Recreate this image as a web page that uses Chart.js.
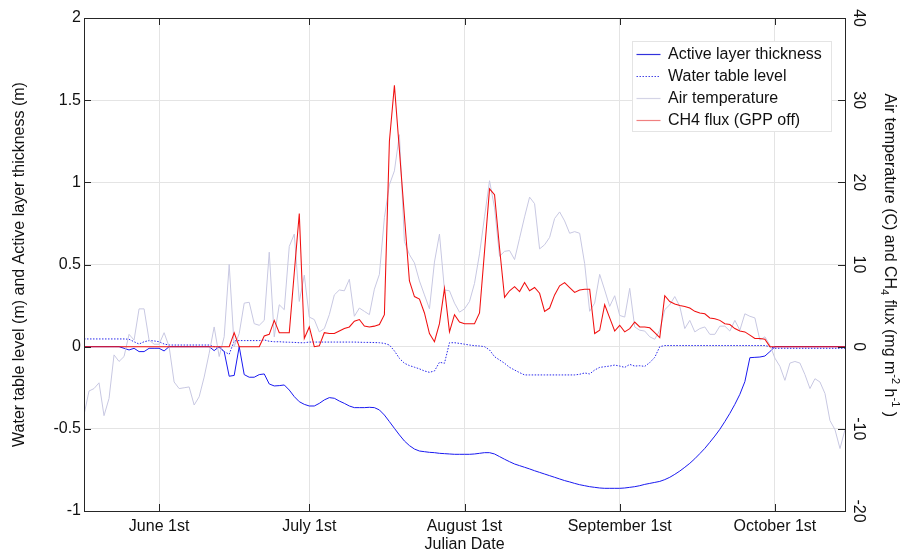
<!DOCTYPE html>
<html>
<head>
<meta charset="utf-8">
<script src="https://cdn.jsdelivr.net/npm/chart.js@4.4.1/dist/chart.umd.min.js"></script>
<style>
  html, body { margin: 0; padding: 0; background: #fff; }
</style>
</head>
<body>
<canvas id="chart" width="916" height="553"></canvas>
<script>
// daily series, first value is day 137, last is day 289
const firstDay = 137;

const monthTicks = [152, 182, 213, 244, 275];
const monthLabels = ['June 1st', 'July 1st', 'August 1st', 'September 1st', 'October 1st'];

// air temperature (C), right axis
const airTemp = [
  -8.3, -5.4, -5.1, -4.4, -8.4, -6.3, -1.0, -1.8, -1.2, 1.5,
  0.8, 4.6, 4.6, 0.8, 0.3, 0.3, 1.7, 0.0, -4.3, -5.1,
  -5.0, -4.9, -7.1, -6.1, -3.7, -0.8, 2.4, -1.2, 1.2, 10.0,
  0.0, 1.6, 5.3, 5.4, 2.8, 2.6, 3.2, 11.5, 1.2, 5.1,
  4.5, 12.2, 13.7, 5.5, 8.7, 3.6, 3.3, 1.8, 2.2, 3.9,
  6.3, 6.9, 6.8, 8.2, 3.7, 4.7, 4.3, 3.9, 7.0, 8.8,
  15.7, 19.7, 21.4, 25.8, 12.8, 11.2, 10.2, 8.0, 6.3, 4.6,
  10.3, 13.7, 6.9, 6.8, 5.3, 4.2, 4.6, 5.5, 7.7, 11.3,
  15.8, 20.2, 16.9, 11.0, 11.6, 11.7, 10.6, 13.2, 15.8, 18.2,
  17.4, 11.9, 12.4, 13.3, 15.6, 16.4, 15.3, 13.8, 14.0, 13.8,
  10.1, 4.3, 5.3, 8.8, 6.9, 4.9, 6.2, 3.8, 3.6, 7.1,
  2.4, 2.0, 1.9, 1.2, 0.9, 2.0, 4.5, 5.1, 6.1, 4.9,
  2.2, 3.2, 1.8, 2.2, 2.4, 1.5, 1.5, 2.5, 2.5, 1.9,
  3.2, 2.0, 4.0, 3.7, 3.5, 0.8, 1.2, 0.2, -1.4, -2.4,
  -4.1, -2.0, -1.8, -2.0, -3.4, -5.1, -3.9, -4.3, -5.7, -9.0,
  -10.1, -12.4, -10.1
];

// CH4 flux (mg m-2 h-1), right axis
const ch4Flux = [
  0, 0, 0, 0, 0, 0, 0, 0, 0, 0,
  0, 0, 0, 0, 0, 0, 0, 0, 0, 0,
  0, 0, 0, 0, 0, 0, 0, 0, 0, 0,
  1.7, 0, 0, 0, 0, 0, 1.3, 1.5, 3.2, 1.7,
  1.7, 1.7, 9.0, 16.2, 1.0, 2.4, 0.0, 0.1, 1.7, 1.6,
  1.6, 1.9, 2.2, 2.4, 3.1, 3.3, 2.5, 2.4, 2.5, 2.7,
  3.9, 25.0, 31.8, 23.9, 15.9, 8.0, 6.1, 5.8, 4.1, 1.6,
  0.6, 2.8, 7.1, 1.8, 3.9, 3.0, 2.8, 2.8, 2.8, 4.1,
  11.6, 19.2, 18.5, 12.0, 6.0, 6.8, 7.3, 6.7, 7.8, 6.8,
  7.2, 6.5, 4.3, 4.7, 6.3, 7.4, 7.8, 7.2, 6.6, 6.9,
  7.0, 7.0, 1.6, 2.0, 5.1, 3.5, 1.9, 2.6, 1.8, 2.2,
  3.0, 2.4, 2.4, 2.3, 1.7, 1.1, 6.2, 5.5, 5.2, 5.0,
  4.9, 4.7, 4.3, 4.1, 4.0, 3.5, 3.4, 3.2, 2.8, 2.7,
  2.2, 1.9, 1.8, 1.4, 1.0, 1.0, 0.9, 0.0, 0, 0,
  0, 0, 0, 0, 0, 0, 0, 0, 0, 0,
  0, 0, 0
];

// active layer thickness (m), left axis
const activeLayer = [
  0, 0, 0, 0, 0, 0, 0, 0, -0.01, -0.02,
  -0.01, -0.03, -0.03, -0.01, -0.01, -0.01, -0.026, 0, 0, 0,
  0, 0, 0, 0, 0, 0, -0.024, 0, -0.03, -0.18,
  -0.175, 0, -0.17, -0.186, -0.186, -0.17, -0.166, -0.227, -0.239, -0.237,
  -0.233, -0.264, -0.304, -0.335, -0.351, -0.361, -0.361, -0.345, -0.324, -0.310,
  -0.314, -0.331, -0.345, -0.361, -0.371, -0.371, -0.371, -0.369, -0.371, -0.385,
  -0.416, -0.456, -0.497, -0.537, -0.574, -0.602, -0.623, -0.635, -0.639, -0.643,
  -0.645, -0.649, -0.651, -0.653, -0.655, -0.655, -0.655, -0.655, -0.653, -0.649,
  -0.645, -0.645, -0.653, -0.669, -0.685, -0.700, -0.714, -0.724, -0.734, -0.744,
  -0.755, -0.765, -0.775, -0.785, -0.795, -0.805, -0.815, -0.823, -0.832, -0.840,
  -0.846, -0.852, -0.856, -0.860, -0.862, -0.862, -0.862, -0.862, -0.860, -0.856,
  -0.852, -0.846, -0.838, -0.832, -0.826, -0.820, -0.809, -0.795, -0.777, -0.757,
  -0.734, -0.710, -0.682, -0.651, -0.619, -0.582, -0.544, -0.503, -0.456, -0.406,
  -0.351, -0.290, -0.213, -0.067, -0.065, -0.063, -0.057, -0.030, 0, 0,
  0, 0, 0, 0, 0, 0, 0, 0, 0, 0,
  0, 0, 0
];

// water table level (m), left axis
const waterTable = [
  0.047, 0.047, 0.047, 0.047, 0.047, 0.047, 0.047, 0.047, 0.047, 0.045,
  0.030, 0.016, 0.030, 0.037, 0.035, 0.030, 0.016, 0.010, 0.010, 0.010,
  0.010, 0.010, 0.010, 0.010, 0.010, 0.010, 0.000, -0.005, -0.030, -0.046,
  0.035, 0.037, 0.037, 0.037, 0.037, 0.037, 0.041, 0.033, 0.030, 0.030,
  0.028, 0.027, 0.026, 0.024, 0.024, 0.028, 0.028, 0.028, 0.028, 0.028,
  0.028, 0.028, 0.028, 0.028, 0.028, 0.027, 0.026, 0.026, 0.025, 0.024,
  0.020, 0.010, -0.026, -0.071, -0.101, -0.115, -0.125, -0.135, -0.148, -0.156,
  -0.148, -0.095, -0.101, 0.024, 0.024, 0.020, 0.015, 0.010, 0.006, 0.004,
  0.000, -0.020, -0.061, -0.081, -0.101, -0.126, -0.142, -0.158, -0.172, -0.172,
  -0.172, -0.172, -0.172, -0.172, -0.172, -0.172, -0.172, -0.172, -0.172, -0.168,
  -0.160, -0.166, -0.142, -0.126, -0.122, -0.118, -0.112, -0.118, -0.126, -0.108,
  -0.118, -0.116, -0.120, -0.097, -0.065, 0.000, 0.007, 0.007, 0.007, 0.007,
  0.007, 0.007, 0.007, 0.007, 0.007, 0.007, 0.007, 0.007, 0.007, 0.007,
  0.007, 0.007, 0.007, 0.007, 0.007, 0.007, 0.007, 0.000, -0.010, -0.010,
  -0.010, -0.010, -0.010, -0.010, -0.010, -0.010, -0.010, -0.010, -0.010, -0.010,
  -0.010, -0.010, -0.010
];

const FONT = '"Liberation Sans", Arial, Helvetica, sans-serif';
const TEXT = '#111';

Chart.defaults.font.family = FONT;
Chart.defaults.font.size = 16;
Chart.defaults.color = TEXT;

function toPoints(values) {
  return values.map((v, i) => ({ x: firstDay + i, y: v }));
}

// matlab style box with inward ticks, rotated right tick labels and right title
const framePlugin = {
  id: 'frame',
  afterDatasetsDraw(chart) {
    const { ctx, chartArea: a, scales } = chart;
    ctx.save();
    ctx.strokeStyle = '#262626';
    ctx.lineWidth = 1;
    ctx.setLineDash([]);
    ctx.strokeRect(a.left + 0.5, a.top + 0.5, a.right - a.left, a.bottom - a.top);

    const len = 7;
    ctx.beginPath();
    scales.x.ticks.forEach(t => {
      const px = Math.round(scales.x.getPixelForValue(t.value)) + 0.5;
      ctx.moveTo(px, a.top); ctx.lineTo(px, a.top + len);
      ctx.moveTo(px, a.bottom); ctx.lineTo(px, a.bottom - len);
    });
    scales.y.ticks.forEach(t => {
      const py = Math.round(scales.y.getPixelForValue(t.value)) + 0.5;
      ctx.moveTo(a.left, py); ctx.lineTo(a.left + len, py);
    });
    scales.y2.ticks.forEach(t => {
      const py = Math.round(scales.y2.getPixelForValue(t.value)) + 0.5;
      ctx.moveTo(a.right, py); ctx.lineTo(a.right - len, py);
    });
    ctx.stroke();

    // right tick labels, turned clockwise
    ctx.fillStyle = TEXT;
    ctx.font = '16px ' + FONT;
    ctx.textAlign = 'center';
    ctx.textBaseline = 'alphabetic';
    scales.y2.ticks.forEach(t => {
      const py = scales.y2.getPixelForValue(t.value);
      ctx.save();
      ctx.translate(a.right + 9, py);
      ctx.rotate(Math.PI / 2);
      ctx.fillText(String(t.value), 0, 0);
      ctx.restore();
    });

    // right axis title with sub and superscripts
    const parts = [
      { t: 'Air temperature (C) and CH' },
      { t: '4', dy: 3.5 },
      { t: ' flux (mg m' },
      { t: '-2', dy: -7 },
      { t: ' h' },
      { t: '-1', dy: -7 },
      { t: ' )' }
    ];
    ctx.save();
    ctx.translate(a.right + 39.5, a.top + 75.5);
    ctx.rotate(Math.PI / 2);
    ctx.textAlign = 'left';
    let x = 0;
    parts.forEach(p => {
      ctx.font = (p.dy ? '11px ' : '16px ') + FONT;
      ctx.fillText(p.t, x, p.dy || 0);
      x += ctx.measureText(p.t).width;
    });
    ctx.restore();
    ctx.restore();
  }
};

// legend box inside the plot, top right
const legendPlugin = {
  id: 'boxLegend',
  afterDraw(chart) {
    const { ctx, chartArea: a } = chart;
    const bx = a.right - 212.5, by = a.top + 23.5, bw = 199, bh = 90;
    ctx.save();
    ctx.fillStyle = '#fff';
    ctx.fillRect(bx, by, bw, bh);
    ctx.strokeStyle = '#e4e4e4';
    ctx.lineWidth = 1;
    ctx.strokeRect(bx, by, bw, bh);
    ctx.font = '16px ' + FONT;
    ctx.textAlign = 'left';
    ctx.textBaseline = 'middle';
    chart.data.datasets.forEach((ds, i) => {
      const y = Math.round(by + 12 + i * 22) + 0.5;
      ctx.beginPath();
      ctx.strokeStyle = ds.legendColor;
      ctx.lineWidth = 1.2;
      ctx.setLineDash(ds.borderDash || []);
      ctx.moveTo(bx + 4, y);
      ctx.lineTo(bx + 28, y);
      ctx.stroke();
      ctx.setLineDash([]);
      ctx.fillStyle = TEXT;
      ctx.fillText(ds.label, bx + 35.5, y);
    });
    ctx.restore();
  }
};

const gridColor = 'rgb(228,228,228)';

new Chart(document.getElementById('chart'), {
  type: 'line',
  data: {
    datasets: [{
      label: 'Active layer thickness',
      data: toPoints(activeLayer),
      yAxisID: 'y',
      borderColor: 'rgb(25,25,240)',
      legendColor: 'rgb(50,50,220)',
      borderWidth: 1,
      order: 4,
    }, {
      label: 'Water table level',
      data: toPoints(waterTable),
      yAxisID: 'y',
      borderColor: 'rgb(40,40,235)',
      legendColor: 'rgb(70,70,230)',
      borderWidth: 1,
      borderDash: [1.5, 1.5],
      order: 3,
    }, {
      label: 'Air temperature',
      data: toPoints(airTemp),
      yAxisID: 'y2',
      borderColor: 'rgb(200,200,226)',
      legendColor: 'rgb(212,212,230)',
      borderWidth: 1,
      order: 2,
    }, {
      label: 'CH4 flux (GPP off)',
      data: toPoints(ch4Flux),
      yAxisID: 'y2',
      borderColor: 'rgb(240,15,15)',
      legendColor: 'rgb(240,128,128)',
      borderWidth: 1.05,
      order: 1,
    }],
  },
  options: {
    responsive: false,
    animation: false,
    events: [],
    layout: { padding: { top: 18, left: 0, right: 0, bottom: 0 } },
    elements: { point: { radius: 0 }, line: { tension: 0 } },
    plugins: { legend: { display: false }, tooltip: { enabled: false } },
    scales: {
      x: {
        type: 'linear',
        min: 137,
        max: 289,
        afterBuildTicks: s => { s.ticks = monthTicks.map(v => ({ value: v })); },
        afterFit: s => { s.height = 42; },
        ticks: {
          autoSkip: false,
          maxRotation: 0,
          padding: 6,
          callback: (v, i) => monthLabels[i],
        },
        grid: { color: gridColor, drawTicks: false },
        border: { display: false },
        title: {
          display: true,
          text: 'Julian Date',
          font: { size: 16, lineHeight: 1 },
          padding: { top: 0, bottom: 0 },
        },
      },
      y: {
        position: 'left',
        min: -1,
        max: 2,
        afterFit: s => { s.width = 84; },
        ticks: {
          stepSize: 0.5,
          padding: 3,
          callback: v => String(Math.round(v * 10) / 10),
        },
        grid: { color: gridColor, drawTicks: false },
        border: { display: false },
        title: {
          display: true,
          text: 'Water table level (m) and Active layer thickness (m)',
          font: { size: 16, lineHeight: 1 },
          padding: { top: 12, bottom: 0 },
        },
      },
      y2: {
        position: 'right',
        min: -20,
        max: 40,
        afterFit: s => { s.width = 71; },
        ticks: { display: false, stepSize: 10 },
        grid: { display: false, drawTicks: false },
        border: { display: false },
      },
    },
  },
  plugins: [framePlugin, legendPlugin],
});
</script>
</body>
</html>
